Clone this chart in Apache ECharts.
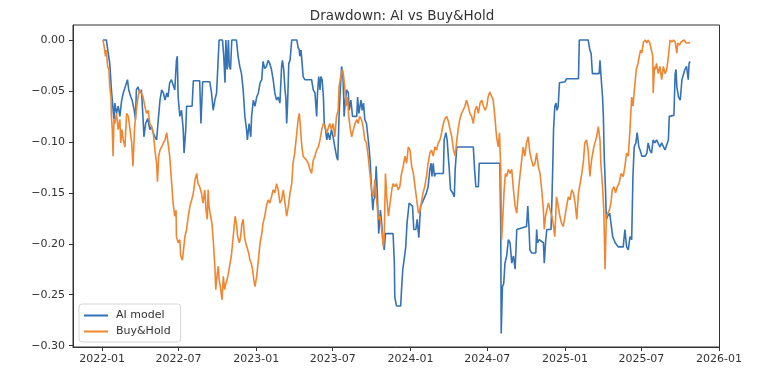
<!DOCTYPE html>
<html><head><meta charset="utf-8">
<script src="https://cdn.jsdelivr.net/npm/echarts@6/dist/echarts.min.js"></script>
<style>html,body{margin:0;padding:0;background:#fff}#c{width:758px;height:384px}</style>
</head><body><div id="c"></div>
<script>
const chartTitle = 'Drawdown: AI vs Buy&Hold';
const seriesNames = ['AI model', 'Buy&Hold'];
const xTickLabels = ['2022-01','2022-07','2023-01','2023-07','2024-01','2024-07','2025-01','2025-07','2026-01'];
const yTickValues = [0, -0.05, -0.10, -0.15, -0.20, -0.25, -0.30];

// day offsets since 2022-01-01
const aiDay = [2,10,18,22,26,28,30,34,38,42,46,50,54,60,63,68,71,76,79,81,85,89,93,97,99,103,108,113,117,121,125,129,133,137,141,145,149,153,156,160,164,168,172,176,178,180,184,188,192,194,198,200,213,216,231,234,238,255,259,263,267,271,275,277,285,288,291,293,296,299,301,304,307,318,322,326,330,334,338,342,344,348,352,354,358,362,366,370,374,378,381,385,389,393,397,401,405,409,413,417,421,425,427,430,433,435,437,439,442,445,449,461,464,467,468,471,473,476,480,496,500,504,508,510,513,516,518,521,524,526,529,532,535,539,543,547,551,555,558,561,564,567,570,572,573,576,579,583,585,589,593,603,605,608,613,616,619,622,626,630,632,635,638,641,643,646,649,652,655,659,662,665,668,671,689,692,693,697,707,709,712,715,719,722,727,731,735,738,743,746,750,754,759,764,768,772,776,779,781,784,787,790,808,810,814,817,822,825,830,834,836,840,879,882,885,891,893,942,944,945,948,951,954,958,962,966,970,974,978,982,1005,1008,1011,1013,1017,1027,1029,1031,1035,1045,1047,1050,1053,1063,1065,1067,1069,1072,1075,1077,1080,1083,1096,1100,1128,1130,1151,1155,1158,1161,1177,1179,1181,1185,1187,1189,1192,1194,1197,1202,1209,1215,1222,1234,1238,1242,1246,1250,1254,1257,1260,1264,1267,1271,1274,1278,1286,1290,1293,1297,1301,1305,1309,1313,1321,1325,1333,1337,1341,1343,1354,1357,1359,1361,1365,1369,1373,1376,1380,1384,1388,1390,1392];
const aiDrawdown = [0,0,-0.023,-0.049,-0.069,-0.078,-0.062,-0.072,-0.065,-0.075,-0.060,-0.052,-0.047,-0.039,-0.049,-0.056,-0.059,-0.069,-0.078,-0.049,-0.046,-0.052,-0.049,-0.078,-0.095,-0.082,-0.077,-0.088,-0.085,-0.091,-0.095,-0.098,-0.078,-0.059,-0.049,-0.052,-0.059,-0.052,-0.056,-0.042,-0.039,-0.044,-0.049,-0.020,-0.016,-0.056,-0.075,-0.069,-0.088,-0.111,-0.088,-0.065,-0.065,-0.040,-0.040,-0.082,-0.041,-0.041,-0.052,-0.069,-0.059,-0.052,-0.052,0,0,-0.016,-0.042,0,-0.029,0,-0.026,-0.029,0,0,-0.016,-0.026,-0.033,-0.049,-0.075,-0.088,-0.098,-0.082,-0.095,-0.075,-0.059,-0.065,-0.056,-0.052,-0.042,-0.039,-0.021,-0.028,-0.026,-0.020,-0.023,-0.029,-0.039,-0.052,-0.059,-0.056,-0.062,-0.026,-0.020,-0.029,-0.049,-0.056,-0.082,-0.065,-0.023,-0.020,0,0,-0.007,-0.010,-0.016,-0.010,-0.020,-0.036,-0.039,-0.039,-0.049,-0.052,-0.075,-0.052,-0.036,-0.049,-0.036,-0.039,-0.056,-0.082,-0.088,-0.098,-0.091,-0.098,-0.088,-0.095,-0.105,-0.114,-0.118,-0.075,-0.049,-0.026,-0.033,-0.056,-0.075,-0.059,-0.049,-0.052,-0.069,-0.059,-0.075,-0.075,-0.056,-0.072,-0.059,-0.069,-0.062,-0.078,-0.082,-0.082,-0.105,-0.121,-0.147,-0.167,-0.157,-0.154,-0.124,-0.154,-0.190,-0.167,-0.180,-0.196,-0.206,-0.190,-0.190,-0.219,-0.252,-0.261,-0.261,-0.245,-0.225,-0.216,-0.203,-0.180,-0.160,-0.159,-0.163,-0.186,-0.186,-0.176,-0.194,-0.163,-0.159,-0.154,-0.150,-0.144,-0.127,-0.121,-0.134,-0.121,-0.134,-0.131,-0.131,-0.098,-0.091,-0.098,-0.127,-0.147,-0.150,-0.154,-0.127,-0.105,-0.105,-0.127,-0.144,-0.144,-0.121,-0.121,-0.186,-0.288,-0.242,-0.239,-0.219,-0.212,-0.196,-0.199,-0.219,-0.212,-0.225,-0.186,-0.183,-0.163,-0.186,-0.206,-0.209,-0.209,-0.186,-0.199,-0.196,-0.199,-0.219,-0.199,-0.186,-0.186,-0.160,-0.127,-0.088,-0.065,-0.062,-0.069,-0.065,-0.042,-0.041,-0.038,-0.038,0,0,-0.010,-0.013,-0.033,-0.033,-0.020,-0.033,-0.056,-0.075,-0.114,-0.147,-0.176,-0.173,-0.170,-0.193,-0.199,-0.203,-0.203,-0.186,-0.203,-0.206,-0.193,-0.196,-0.134,-0.105,-0.101,-0.091,-0.105,-0.108,-0.114,-0.114,-0.111,-0.101,-0.108,-0.111,-0.098,-0.101,-0.098,-0.105,-0.101,-0.108,-0.108,-0.098,-0.075,-0.074,-0.033,-0.029,-0.046,-0.056,-0.059,-0.039,-0.039,-0.029,-0.026,-0.039,-0.023,-0.021];

const bhDay = [2,5,8,10,13,16,18,21,22,24,26,28,30,34,38,42,44,47,50,54,58,62,66,70,73,77,81,85,89,93,97,101,105,109,113,117,121,125,129,131,134,137,141,145,149,153,156,160,164,168,172,175,176,180,184,186,190,192,196,200,204,208,212,216,220,224,227,231,235,239,243,246,249,251,253,257,260,263,267,269,272,275,277,280,284,287,290,293,296,299,303,306,309,312,315,318,321,325,328,331,334,337,340,343,347,350,353,356,359,362,366,370,374,378,381,385,389,393,397,401,405,409,413,417,421,425,429,433,437,441,445,449,452,456,461,464,467,470,473,476,480,484,488,492,496,500,504,508,512,516,520,524,528,532,535,539,543,547,551,555,559,561,565,569,572,575,578,581,584,588,591,595,599,603,606,610,614,618,622,626,630,634,638,642,646,650,654,658,662,666,668,671,674,678,682,686,689,693,697,701,705,709,713,717,721,725,729,733,737,741,745,749,753,757,760,764,768,772,776,780,784,788,792,796,800,804,808,812,816,820,824,828,832,836,840,843,847,851,855,859,863,867,871,875,879,883,887,891,895,899,903,907,911,914,918,922,926,930,934,938,941,944,946,949,952,955,958,962,966,970,974,978,982,986,990,997,1001,1005,1009,1013,1017,1021,1025,1029,1033,1037,1041,1045,1047,1050,1053,1057,1061,1065,1068,1072,1076,1080,1084,1088,1092,1096,1100,1104,1108,1112,1116,1120,1124,1128,1132,1136,1140,1143,1147,1151,1155,1159,1163,1167,1171,1175,1179,1181,1185,1188,1191,1194,1197,1201,1205,1208,1212,1216,1220,1224,1229,1234,1238,1242,1246,1250,1254,1257,1261,1265,1269,1272,1275,1278,1282,1286,1290,1293,1297,1301,1304,1305,1308,1310,1313,1317,1321,1325,1329,1333,1337,1341,1345,1349,1353,1357,1361,1363,1367,1371,1375,1378,1383,1386,1389,1392];
const bhDrawdown = [0,-0.007,-0.016,-0.010,-0.026,-0.029,-0.046,-0.056,-0.075,-0.088,-0.114,-0.078,-0.082,-0.072,-0.088,-0.078,-0.101,-0.088,-0.098,-0.105,-0.072,-0.075,-0.088,-0.101,-0.124,-0.085,-0.069,-0.056,-0.049,-0.052,-0.056,-0.065,-0.072,-0.069,-0.082,-0.085,-0.091,-0.108,-0.121,-0.139,-0.114,-0.108,-0.105,-0.101,-0.098,-0.091,-0.101,-0.114,-0.137,-0.160,-0.173,-0.167,-0.193,-0.199,-0.196,-0.212,-0.216,-0.209,-0.193,-0.186,-0.173,-0.163,-0.157,-0.150,-0.137,-0.131,-0.141,-0.144,-0.150,-0.160,-0.147,-0.167,-0.176,-0.147,-0.163,-0.173,-0.180,-0.196,-0.222,-0.245,-0.232,-0.222,-0.235,-0.242,-0.255,-0.232,-0.245,-0.239,-0.235,-0.229,-0.219,-0.212,-0.199,-0.186,-0.173,-0.180,-0.193,-0.199,-0.193,-0.180,-0.176,-0.193,-0.199,-0.199,-0.209,-0.216,-0.219,-0.225,-0.235,-0.242,-0.232,-0.216,-0.199,-0.190,-0.180,-0.173,-0.163,-0.157,-0.160,-0.154,-0.147,-0.150,-0.141,-0.147,-0.160,-0.157,-0.147,-0.160,-0.173,-0.163,-0.150,-0.141,-0.121,-0.111,-0.091,-0.078,-0.072,-0.088,-0.105,-0.114,-0.114,-0.118,-0.121,-0.127,-0.131,-0.118,-0.114,-0.108,-0.105,-0.098,-0.088,-0.082,-0.085,-0.091,-0.091,-0.082,-0.088,-0.082,-0.095,-0.075,-0.069,-0.046,-0.036,-0.029,-0.036,-0.049,-0.065,-0.056,-0.075,-0.088,-0.095,-0.088,-0.082,-0.078,-0.082,-0.075,-0.078,-0.085,-0.098,-0.101,-0.114,-0.131,-0.147,-0.154,-0.137,-0.157,-0.176,-0.173,-0.186,-0.203,-0.193,-0.131,-0.154,-0.173,-0.160,-0.147,-0.141,-0.144,-0.141,-0.147,-0.144,-0.131,-0.124,-0.114,-0.121,-0.105,-0.108,-0.124,-0.131,-0.144,-0.157,-0.170,-0.167,-0.157,-0.150,-0.144,-0.134,-0.121,-0.111,-0.108,-0.114,-0.105,-0.108,-0.101,-0.098,-0.091,-0.082,-0.077,-0.075,-0.080,-0.088,-0.095,-0.108,-0.114,-0.098,-0.088,-0.078,-0.072,-0.069,-0.065,-0.059,-0.065,-0.072,-0.075,-0.082,-0.069,-0.065,-0.072,-0.062,-0.059,-0.065,-0.069,-0.065,-0.056,-0.051,-0.052,-0.059,-0.075,-0.095,-0.105,-0.091,-0.127,-0.196,-0.173,-0.147,-0.131,-0.134,-0.127,-0.131,-0.127,-0.147,-0.163,-0.170,-0.147,-0.131,-0.105,-0.114,-0.101,-0.095,-0.111,-0.118,-0.124,-0.121,-0.111,-0.124,-0.131,-0.147,-0.167,-0.186,-0.173,-0.167,-0.160,-0.167,-0.173,-0.180,-0.193,-0.154,-0.163,-0.173,-0.180,-0.183,-0.173,-0.163,-0.154,-0.157,-0.147,-0.150,-0.160,-0.176,-0.150,-0.141,-0.131,-0.118,-0.101,-0.098,-0.108,-0.134,-0.118,-0.108,-0.101,-0.095,-0.085,-0.098,-0.121,-0.144,-0.167,-0.225,-0.173,-0.173,-0.167,-0.160,-0.147,-0.144,-0.150,-0.144,-0.141,-0.131,-0.134,-0.124,-0.111,-0.114,-0.088,-0.056,-0.065,-0.046,-0.029,-0.023,-0.016,-0.010,-0.013,-0.002,0,-0.003,0,-0.003,-0.003,-0.016,-0.052,-0.026,-0.029,-0.023,-0.033,-0.026,-0.039,-0.026,-0.033,-0.029,-0.016,0,-0.002,0,-0.002,-0.013,-0.003,-0.005,-0.002,-0.003,0,-0.003,-0.002,-0.003,-0.002];

const DAY_MS = 86400000;
const BASE = Date.UTC(2022, 0, 1);
const toTs = d => BASE + d * DAY_MS;
const tickTs = s => { const p = s.split('-').map(Number); return Date.UTC(p[0], p[1] - 1, 1); };
const xTickValues = xTickLabels.map(tickTs);
const labelByTs = {};
xTickLabels.forEach((s, i) => { labelByTs[xTickValues[i]] = s; });
const pairs = (days, vals) => days.map((d, i) => [toTs(d), vals[i]]);

const FONT = 'DejaVu Sans';
const TXT = '#333';
const BLUE = '#3573b4';
const ORANGE = '#f08630';
const chart = echarts.init(document.getElementById('c'), null, { renderer: 'canvas' });
chart.setOption({
  animation: false,
  backgroundColor: '#fff',
  title: {
    text: chartTitle, left: 397, top: 4, textAlign: 'center',
    textStyle: { fontFamily: FONT, fontSize: 13.5, fontWeight: 'normal', color: TXT }
  },
  grid: { left: 73, right: 38.5, top: 25, bottom: 37, show: true, borderColor: '#333', borderWidth: 1, backgroundColor: 'transparent' },
  legend: {
    data: seriesNames.map(n => ({ name: n, icon: 'rect' })),
    orient: 'vertical', left: 79, top: 304,
    itemWidth: 24, itemHeight: 2, itemGap: 3,
    padding: [5, 10, 4, 5],
    borderColor: '#d5d5d5', borderWidth: 1, borderRadius: 3, backgroundColor: 'rgba(255,255,255,0.85)',
    textStyle: { fontFamily: FONT, fontSize: 11, color: TXT, lineHeight: 13, padding: [0, 0, 0, 3] }
  },
  xAxis: {
    type: 'value', min: toTs(-69), max: toTs(1462),
    axisLine: { show: true, onZero: false, lineStyle: { color: '#333', width: 1 } },
    axisTick: { show: true, length: 4, lineStyle: { color: '#333' }, customValues: xTickValues },
    axisLabel: { customValues: xTickValues, margin: 7, fontFamily: FONT, fontSize: 11, color: TXT,
      formatter: v => labelByTs[v] || '' },
    splitLine: { show: false }, minorTick: { show: false }
  },
  yAxis: {
    type: 'value', min: -0.3013, max: 0.0147,
    axisLine: { show: true, lineStyle: { color: '#333', width: 1 } },
    axisTick: { show: true, length: 4, lineStyle: { color: '#333' }, customValues: yTickValues },
    axisLabel: { customValues: yTickValues, margin: 8, fontFamily: FONT, fontSize: 11, color: TXT,
      formatter: v => (v < -1e-9 ? '\u2212' : '') + Math.abs(v).toFixed(2) },
    splitLine: { show: false }
  },
  series: [
    { name: seriesNames[0], type: 'line', data: pairs(aiDay, aiDrawdown), symbol: 'none', showSymbol: false,
      lineStyle: { color: BLUE, width: 1.6 }, itemStyle: { color: BLUE } },
    { name: seriesNames[1], type: 'line', data: pairs(bhDay, bhDrawdown), symbol: 'none', showSymbol: false,
      lineStyle: { color: ORANGE, width: 1.6 }, itemStyle: { color: ORANGE } }
  ]
});
</script></body></html>
